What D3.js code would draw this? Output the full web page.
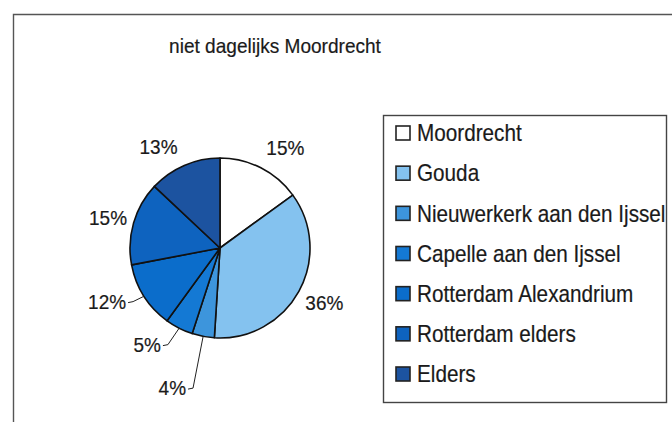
<!DOCTYPE html>
<meta charset="utf-8">
<style>
body{
  margin: 0;
  background: white;
  font-family: "Liberation Sans", Arial, sans-serif;
}
text{ fill: #1a1a1a; }
</style>
<body>
<div id="chart"></div>
<script src="https://cdn.jsdelivr.net/npm/d3@7"></script>
<script>

var title = 'niet dagelijks Moordrecht'
var places = ['Moordrecht', 'Gouda', 'Nieuwerkerk aan den Ijssel', 'Capelle aan den Ijssel',
              'Rotterdam Alexandrium', 'Rotterdam elders', 'Elders']
var shares = [15, 36, 4, 5, 12, 15, 13]
var colors = ['#ffffff', '#84c2ef', '#3d95dc', '#1479d4', '#0b6dcb', '#0e63bf', '#1c53a0']

// label placement (excel pushed the small ones down and out)
var labelTurn = [6, -1, 8, 10, 7, -1, -8]
var labelDist = [120, 118, 148, 121, 125, 116, 118]
var withLeader = [false, false, true, true, true, false, false]

var width = 672,
    height = 422,
    r = 90,
    cx = 220,
    cy = 248

var svg = d3.select('#chart').append('svg')
    .attr('width', width).attr('height', height)

// outer chart frame, runs off the right and bottom of the scan
svg.append('path')
    .attr('d', 'M13.5,' + height + 'V14.5H' + width)
    .style('fill', 'none').style('stroke', '#555').style('stroke-width', 1.4)

svg.append('text')
    .attr('transform', 'translate(275,53) scale(0.93,1)')
    .attr('text-anchor', 'middle')
    .style('font-size', '20.5px')
    .style('stroke', '#1a1a1a').style('stroke-width', 0.2)
    .text(title)

var pie = d3.pie().sort(null).value(function(d){ return d })
var arcs = pie(shares)
var arc = d3.arc().innerRadius(0).outerRadius(r)

var g = svg.append('g').attr('transform', 'translate(' + cx + ',' + cy + ')')

g.selectAll('path.slice')
    .data(arcs)
  .enter().append('path')
    .attr('class', 'slice')
    .attr('d', arc)
    .style('fill', function(d, i){ return colors[i] })
    .style('stroke', '#111')
    .style('stroke-width', 1.6)
    .style('stroke-linejoin', 'round')

function polar(a, rad){
  return [Math.sin(a) * rad, -Math.cos(a) * rad]
}

arcs.forEach(function(d, i){
  var mid = (d.startAngle + d.endAngle) / 2
  var p = polar(mid + labelTurn[i] * Math.PI / 180, labelDist[i])
  var t = g.append('text')
      .attr('transform', 'translate(' + p[0] + ',' + p[1] + ') scale(0.95,1)')
      .attr('text-anchor', 'middle')
      .attr('dy', '0.36em')
      .style('font-size', '20px')
      .style('stroke', '#1a1a1a').style('stroke-width', 0.2)
      .text(shares[i] + '%')
  if (withLeader[i]){
    var w = t.node().getComputedTextLength() * 0.95
    var edge = polar(mid, r)
    var x0 = p[0] + w / 2 + 2
    g.append('path')
        .attr('d', 'M' + x0 + ',' + (p[1] + 1) + 'L' + (x0 + 5) + ',' + (p[1]) +
                   'L' + edge[0] + ',' + edge[1])
        .style('fill', 'none').style('stroke', '#222').style('stroke-width', 1)
  }
})

// legend
var legend = svg.append('g')
svg.append('rect')
    .attr('x', 383.5).attr('y', 115.5)
    .attr('width', 283).attr('height', 287)
    .style('fill', 'none').style('stroke', '#444').style('stroke-width', 1.4)

var row = d3.scalePoint().domain(places).range([133, 374])

var item = legend.selectAll('g')
    .data(places)
  .enter().append('g')
    .attr('transform', function(d){ return 'translate(396,' + row(d) + ')' })

item.append('rect')
    .attr('x', 0).attr('y', -7)
    .attr('width', 14).attr('height', 14)
    .style('fill', function(d, i){ return colors[i] })
    .style('stroke', '#222').style('stroke-width', 1.6)

item.append('text')
    .attr('transform', 'translate(21,0) scale(0.9,1)')
    .attr('dy', '0.36em')
    .style('font-size', '23px')
    .style('stroke', '#1a1a1a').style('stroke-width', 0.2)
    .text(function(d){ return d })

</script>
